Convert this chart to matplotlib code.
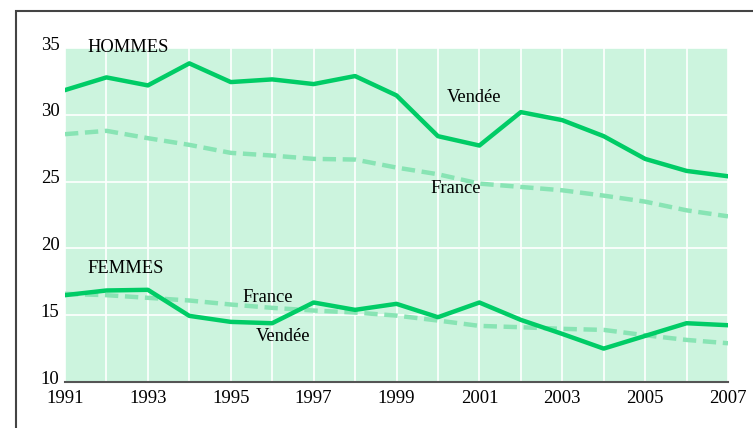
import matplotlib.pyplot as plt
import matplotlib.patches as mpatches
from matplotlib.transforms import ScaledTranslation

years = list(range(1991, 2008))
hommes_vendee = [31.85, 32.8, 32.2, 33.85, 32.45, 32.65, 32.3, 32.9, 31.45,
                 28.4, 27.7, 30.2, 29.6, 28.4, 26.7, 25.8, 25.4]
hommes_france = [28.55, 28.8, 28.25, 27.75, 27.15, 26.95, 26.7, 26.65, 26.05,
                 25.55, 24.85, 24.6, 24.35, 23.95, 23.5, 22.85, 22.4]
femmes_vendee = [16.5, 16.85, 16.9, 14.95, 14.5, 14.4, 15.95, 15.4, 15.85,
                 14.85, 15.95, 14.65, 13.6, 12.5, 13.45, 14.4, 14.25]
femmes_france = [16.6, 16.5, 16.3, 16.1, 15.8, 15.55, 15.35, 15.2, 14.97,
                 14.6, 14.2, 14.1, 13.98, 13.9, 13.5, 13.15, 12.9]
xticks = list(range(1991, 2008, 2))
yticks = [10, 15, 20, 25, 30, 35]

plt.rcParams['font.family'] = ['Liberation Serif', 'DejaVu Serif']

fig = plt.figure(figsize=(7.53, 4.28), dpi=100)
# cadre gris autour du graphique
fig.patches.append(mpatches.Rectangle((16 / 753, -0.1), 1.2, 1.1 - 11 / 428,
                                      transform=fig.transFigure, fill=False,
                                      edgecolor='#444444', linewidth=1.5))

ax = fig.add_axes([65 / 753, 46 / 428, 663 / 753, 334 / 428])
ax.set_facecolor('#ccf4de')

vendee_c = '#00cc66'
france_c = '#88e4b4'
ax.plot(years, hommes_france, color=france_c, lw=3.2, ls=(0, (3, 1.5)))
ax.plot(years, femmes_france, color=france_c, lw=3.2, ls=(0, (3, 1.5)))
ax.plot(years, hommes_vendee, color=vendee_c, lw=3.2)
ax.plot(years, femmes_vendee, color=vendee_c, lw=3.2)

ax.set_xlim(1991, 2007)
ax.set_ylim(10, 35)
ax.set_xticks(years, minor=True)
ax.set_xticks(xticks)
ax.set_yticks(yticks)
ax.grid(True, which='both', axis='x', color='white', lw=1.2)
ax.grid(True, which='major', axis='y', color='white', lw=1.2)
ax.set_axisbelow(True)
ax.tick_params(which='both', length=0, labelsize=13.5, colors='black')
ax.tick_params(axis='y', pad=4)
ax.tick_params(axis='x', pad=6)
# les étiquettes de l'axe y sont un peu au-dessus des lignes
shift = ScaledTranslation(0, 3.5 / 72, fig.dpi_scale_trans)
for lab in ax.get_yticklabels():
    lab.set_transform(lab.get_transform() + shift)

for s in ['top', 'right', 'left']:
    ax.spines[s].set_visible(False)
ax.spines['bottom'].set_color('#555555')
ax.spines['bottom'].set_linewidth(1.5)

fs = 13.3
ax.text(1991.55, 35.0, 'HOMMES', fontsize=fs, va='center', clip_on=False)
ax.text(2000.22, 31.26, 'Vendée', fontsize=fs, va='center')
ax.text(1999.83, 24.52, 'France', fontsize=fs, va='center')
ax.text(1991.55, 18.53, 'FEMMES', fontsize=fs, va='center')
ax.text(1995.27, 16.29, 'France', fontsize=fs, va='center')
ax.text(1995.61, 13.44, 'Vendée', fontsize=fs, va='center')

fig.savefig('out.png', dpi=100)
